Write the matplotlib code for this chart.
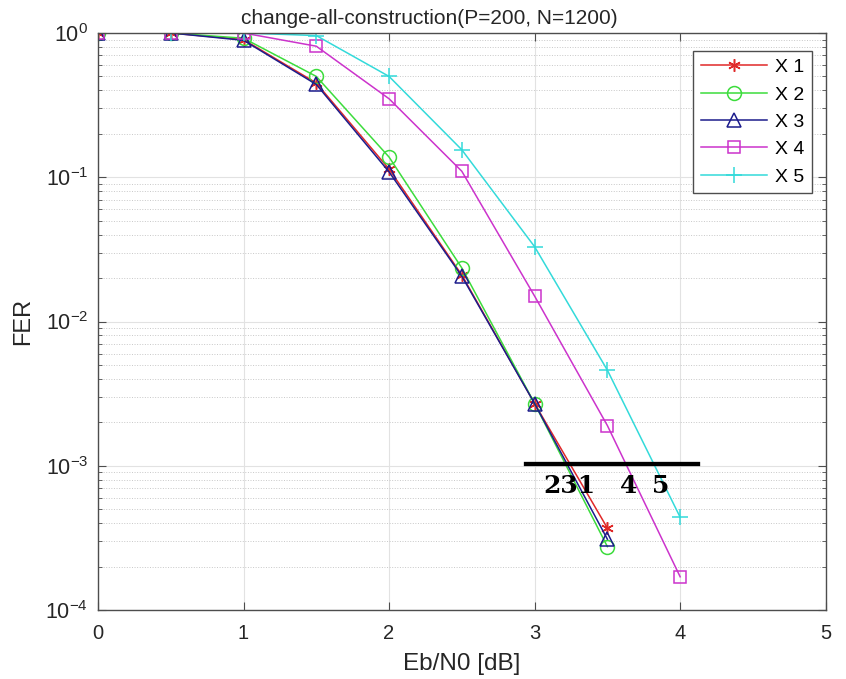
import matplotlib
matplotlib.use("Agg")
import matplotlib.pyplot as plt
import numpy as np
from matplotlib.ticker import LogLocator, NullFormatter

plt.rcParams['font.family'] = ['Liberation Sans', 'DejaVu Sans']
plt.rcParams['mathtext.fontset'] = 'custom'
plt.rcParams['mathtext.rm'] = 'Liberation Sans'
plt.rcParams['mathtext.it'] = 'Liberation Sans:italic'
plt.rcParams['mathtext.bf'] = 'Liberation Sans:bold'

snr = [0, 0.5, 1, 1.5, 2, 2.5, 3, 3.5, 4]
fer_x1 = [1.0, 1.0, 0.90, 0.45, 0.114, 0.021, 0.0027, 3.7e-4]
fer_x2 = [1.0, 1.0, 0.92, 0.50, 0.138, 0.0235, 0.0027, 2.75e-4]
fer_x3 = [1.0, 1.0, 0.89, 0.44, 0.109, 0.0206, 0.0027, 3.1e-4]
fer_x4 = [1.0, 1.0, 1.0, 0.81, 0.35, 0.11, 0.015, 0.0019, 1.7e-4]
fer_x5 = [1.0, 1.0, 1.0, 0.96, 0.50, 0.155, 0.033, 0.0046, 4.4e-4]
labels = ['X 1', 'X 2', 'X 3', 'X 4', 'X 5']
title = 'change-all-construction(P=200, N=1200)'
annot_text = ['231', '4', '5']

series = [fer_x1, fer_x2, fer_x3, fer_x4, fer_x5]
colors = ['#e02828', '#3cdc3c', '#1c1c8c', '#cc33cc', '#33dada']
markers = [(6, 2, 0), 'o', '^', 's', '+']
msizes = [9, 10, 10, 9, 12]

fig = plt.figure(figsize=(8.46, 6.79), dpi=100)
ax = fig.add_axes([0.1158, 0.1016, 0.8602, 0.8498])

for y, c, m, ms, lab in zip(series, colors, markers, msizes, labels):
    ax.semilogy(snr[:len(y)], y, color=c, marker=m, markersize=ms,
                markerfacecolor='none', markeredgecolor=c, markeredgewidth=1.1,
                linewidth=1.1, label=lab)

ax.set_xlim(0, 5)
ax.set_ylim(1e-4, 1)
ax.set_xticks([0, 1, 2, 3, 4, 5])
ax.yaxis.set_major_locator(LogLocator(base=10, numticks=10))
ax.yaxis.set_minor_locator(LogLocator(base=10, subs=np.arange(2, 10), numticks=10))
ax.yaxis.set_minor_formatter(NullFormatter())

ax.grid(True, which='major', color='#e2e2e2', linestyle='-', linewidth=0.8)
ax.grid(True, which='minor', axis='y', color='#c8c8c8', linestyle=':', linewidth=0.7)
ax.set_axisbelow(True)

ax.tick_params(which='both', direction='in', top=True, right=True, colors='#4d4d4d',
               labelcolor='#262626', labelsize=14.5)
ax.tick_params(which='major', length=6)
ax.tick_params(which='minor', length=3)
ax.tick_params(axis='x', which='both', pad=10)
ax.tick_params(axis='y', which='both', pad=7, labelsize=15.5)
for s in ax.spines.values():
    s.set_color('#4d4d4d')
    s.set_linewidth(1.0)

ax.set_xlabel('Eb/N0 [dB]', fontsize=17.5, color='#262626', labelpad=7)
ax.set_ylabel('FER', fontsize=17, color='#262626', labelpad=8)
ax.text(0.4547, 1.0156, title, transform=ax.transAxes, fontsize=15, color='#262626',
        ha='center', va='baseline')

leg = ax.legend(loc='upper right', bbox_to_anchor=(0.981, 0.969), borderaxespad=0,
                fontsize=14, frameon=True, fancybox=False, edgecolor='#4d4d4d', framealpha=1,
                handlelength=3.4, handletextpad=0.4, borderpad=0.4, labelspacing=0.5)
leg.get_frame().set_linewidth(1.0)

# annotation: black bar and labels
ax.plot([2.94, 4.12], [1.028e-3, 1.028e-3], color='black', linewidth=3.1, clip_on=False, zorder=5)
ax.text(3.063, 6.47e-4, annot_text[0], fontsize=18, fontweight='bold', family='DejaVu Serif',
        ha='left', va='baseline', zorder=6)
ax.text(3.647, 6.47e-4, annot_text[1], fontsize=18, fontweight='bold', family='DejaVu Serif',
        ha='center', va='baseline', zorder=6)
ax.text(3.867, 6.47e-4, annot_text[2], fontsize=18, fontweight='bold', family='DejaVu Serif',
        ha='center', va='baseline', zorder=6)

fig.savefig('out.png', dpi=100)
